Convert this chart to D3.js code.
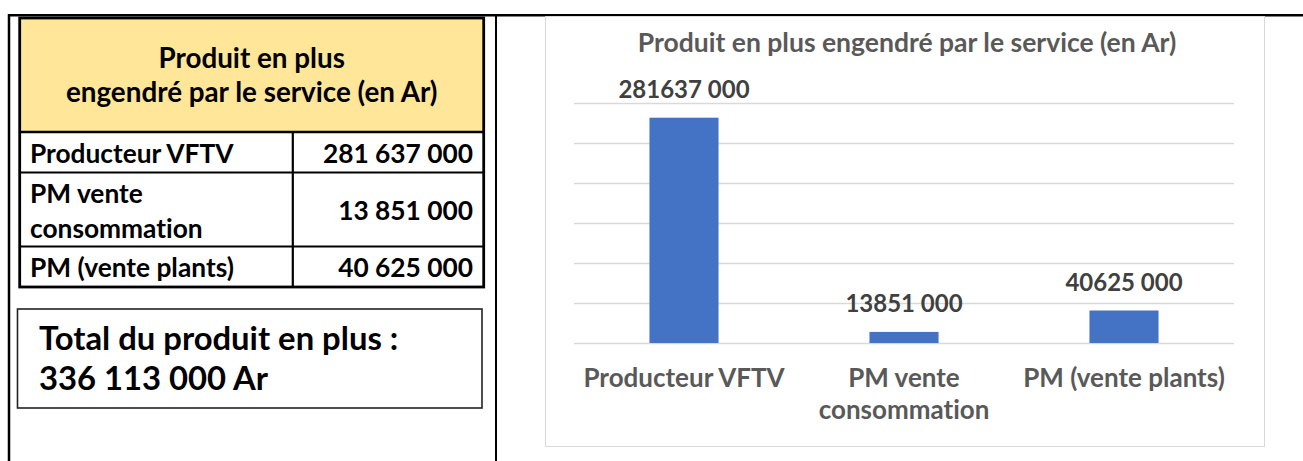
<!DOCTYPE html>
<html>
<head>
<meta charset="utf-8">
<script src="https://cdn.jsdelivr.net/npm/d3@7"></script>
<style>
html,body{margin:0;padding:0;background:#fff;overflow:hidden}
svg{display:block}
text{font-family:Lato,"Open Sans",sans-serif;font-weight:700;font-variant-ligatures:none;font-feature-settings:"liga" 0}
</style>
</head>
<body>
<svg id="c" width="1303" height="461"></svg>
<script>
// ---- data ----
const categories = ["Producteur VFTV", "PM vente\nconsommation", "PM (vente plants)"];
const values = [281637000, 13851000, 40625000];
const yTicks = [0, 50000000, 100000000, 150000000, 200000000, 250000000, 300000000];
const chartTitle = "Produit en plus engendré par le service (en Ar)";
const tableHeader = ["Produit en plus", "engendré par le service (en Ar)"];
const totalLabel = "Total du produit en plus :";
const unitLabel = "Ar";

// ---- formatting ----
const fmtSpaces = v => d3.format(",")(v).replace(/,/g, " ");
const fmtLabel = v => `${Math.floor(v / 1000)} ${String(v % 1000).padStart(3, "0")}`;

const svg = d3.select("#c");

// ---- page frame lines ----
svg.append("line").attr("x1", 8).attr("x2", 1303).attr("y1", 15.3).attr("y2", 15.3)
  .attr("stroke", "#000").attr("stroke-width", 2.5);
svg.append("line").attr("x1", 9).attr("x2", 9).attr("y1", 14).attr("y2", 461)
  .attr("stroke", "#000").attr("stroke-width", 2.5);
svg.append("line").attr("x1", 496).attr("x2", 496).attr("y1", 14).attr("y2", 461)
  .attr("stroke", "#000").attr("stroke-width", 2);

// ---- table ----
const T = {x0: 19.7, x1: 483.7, top: 18, headBottom: 132, colX: 292.8, textL: 30, textR: 473};
const rowLines = categories.map(c => c.split("\n"));
const rowH = rowLines.map(l => 40.5 + (l.length - 1) * 33.5);
const rowTops = [];
rowH.reduce((acc, h) => { rowTops.push(acc); return acc + h; }, T.headBottom);
const tableBottom = rowTops[rowTops.length - 1] + rowH[rowH.length - 1];

const tbl = svg.append("g");
tbl.append("rect").attr("x", T.x0).attr("y", T.top).attr("width", T.x1 - T.x0)
  .attr("height", T.headBottom - T.top).attr("fill", "#FFE699");

tbl.selectAll("text.th").data(tableHeader).join("text").attr("class", "th")
  .attr("x", (T.x0 + T.x1) / 2).attr("y", (d, i) => 68 + i * 34)
  .attr("text-anchor", "middle").attr("font-size", 27.8).attr("fill", "#000").text(d => d);

// row separators
tbl.selectAll("line.rl").data(rowTops).join("line").attr("class", "rl")
  .attr("x1", T.x0).attr("x2", T.x1).attr("y1", d => d).attr("y2", d => d)
  .attr("stroke", "#000").attr("stroke-width", (d, i) => i === 0 ? 2.6 : 2);
tbl.append("line").attr("x1", T.colX).attr("x2", T.colX).attr("y1", T.headBottom).attr("y2", tableBottom)
  .attr("stroke", "#000").attr("stroke-width", 2.2);
tbl.append("rect").attr("x", T.x0).attr("y", T.top).attr("width", T.x1 - T.x0)
  .attr("height", tableBottom - T.top).attr("fill", "none").attr("stroke", "#000").attr("stroke-width", 2.8);

const rows = tbl.selectAll("g.row").data(categories).join("g").attr("class", "row");
rows.each(function(c, i) {
  const g = d3.select(this);
  const lines = rowLines[i];
  const mid = rowTops[i] + rowH[i] / 2;
  lines.forEach((ln, j) => {
    g.append("text").attr("x", T.textL)
      .attr("y", mid + 10.5 + (j - (lines.length - 1) / 2) * 35)
      .attr("font-size", 26.3).attr("fill", "#000").text(ln);
  });
  g.append("text").attr("x", T.textR).attr("y", mid + 10.5).attr("text-anchor", "end")
    .attr("font-size", 26.3).attr("fill", "#000").text(fmtSpaces(values[i]));
});

// ---- total box ----
const total = d3.sum(values);
svg.append("rect").attr("x", 17.5).attr("y", 309).attr("width", 464.5).attr("height", 99)
  .attr("fill", "none").attr("stroke", "#222").attr("stroke-width", 1.6);
svg.selectAll("text.tot").data([totalLabel, `${fmtSpaces(total)} ${unitLabel}`]).join("text")
  .attr("class", "tot").attr("x", 39).attr("y", (d, i) => 350 + i * 39.5)
  .attr("font-size", 32.8).attr("fill", "#000").text(d => d);

// ---- chart ----
const box = {x: 545, y: 16, w: 719, h: 430};
svg.append("rect").attr("x", box.x + 0.5).attr("y", box.y + 0.5).attr("width", box.w).attr("height", box.h)
  .attr("fill", "#fff").attr("stroke", "#D9D9D9").attr("stroke-width", 1);

const plot = {left: 574, right: 1234, top: 103, bottom: 343};
const x = d3.scaleBand().domain(categories).range([plot.left, plot.right])
  .paddingInner(0.686).paddingOuter(0.343);
const y = d3.scaleLinear().domain([0, d3.max(yTicks)]).range([plot.bottom, plot.top]);

svg.append("text").attr("x", 907).attr("y", 52)
  .attr("text-anchor", "middle").attr("font-size", 26.5).attr("fill", "#595959").text(chartTitle);

const grid = svg.append("g").attr("transform", `translate(${plot.left},0)`)
  .call(d3.axisLeft(y).tickValues(yTicks).tickSize(-(plot.right - plot.left)).tickFormat(""));
grid.select(".domain").remove();
grid.selectAll(".tick line").attr("stroke", "#D9D9D9").attr("stroke-width", 1.5);

svg.append("g").selectAll("rect").data(values).join("rect")
  .attr("x", (d, i) => x(categories[i])).attr("width", x.bandwidth())
  .attr("y", d => y(d)).attr("height", d => y(0) - y(d)).attr("fill", "#4472C4");

svg.append("g").selectAll("text").data(values).join("text")
  .attr("x", (d, i) => x(categories[i]) + x.bandwidth() / 2).attr("y", d => y(d) - 20)
  .attr("text-anchor", "middle").attr("font-size", 24).attr("fill", "#404040").text(fmtLabel);

const xa = svg.append("g").attr("transform", `translate(0,${plot.bottom})`)
  .call(d3.axisBottom(x).tickSize(0).tickFormat(""));
xa.select(".domain").remove();
xa.selectAll(".tick").each(function(c) {
  const t = d3.select(this).append("text").attr("text-anchor", "middle")
    .attr("font-size", 26).attr("fill", "#595959");
  c.split("\n").forEach((ln, j) => {
    t.append("tspan").attr("x", 0).attr("y", 44 + j * 32).text(ln);
  });
});
</script>
</body>
</html>
